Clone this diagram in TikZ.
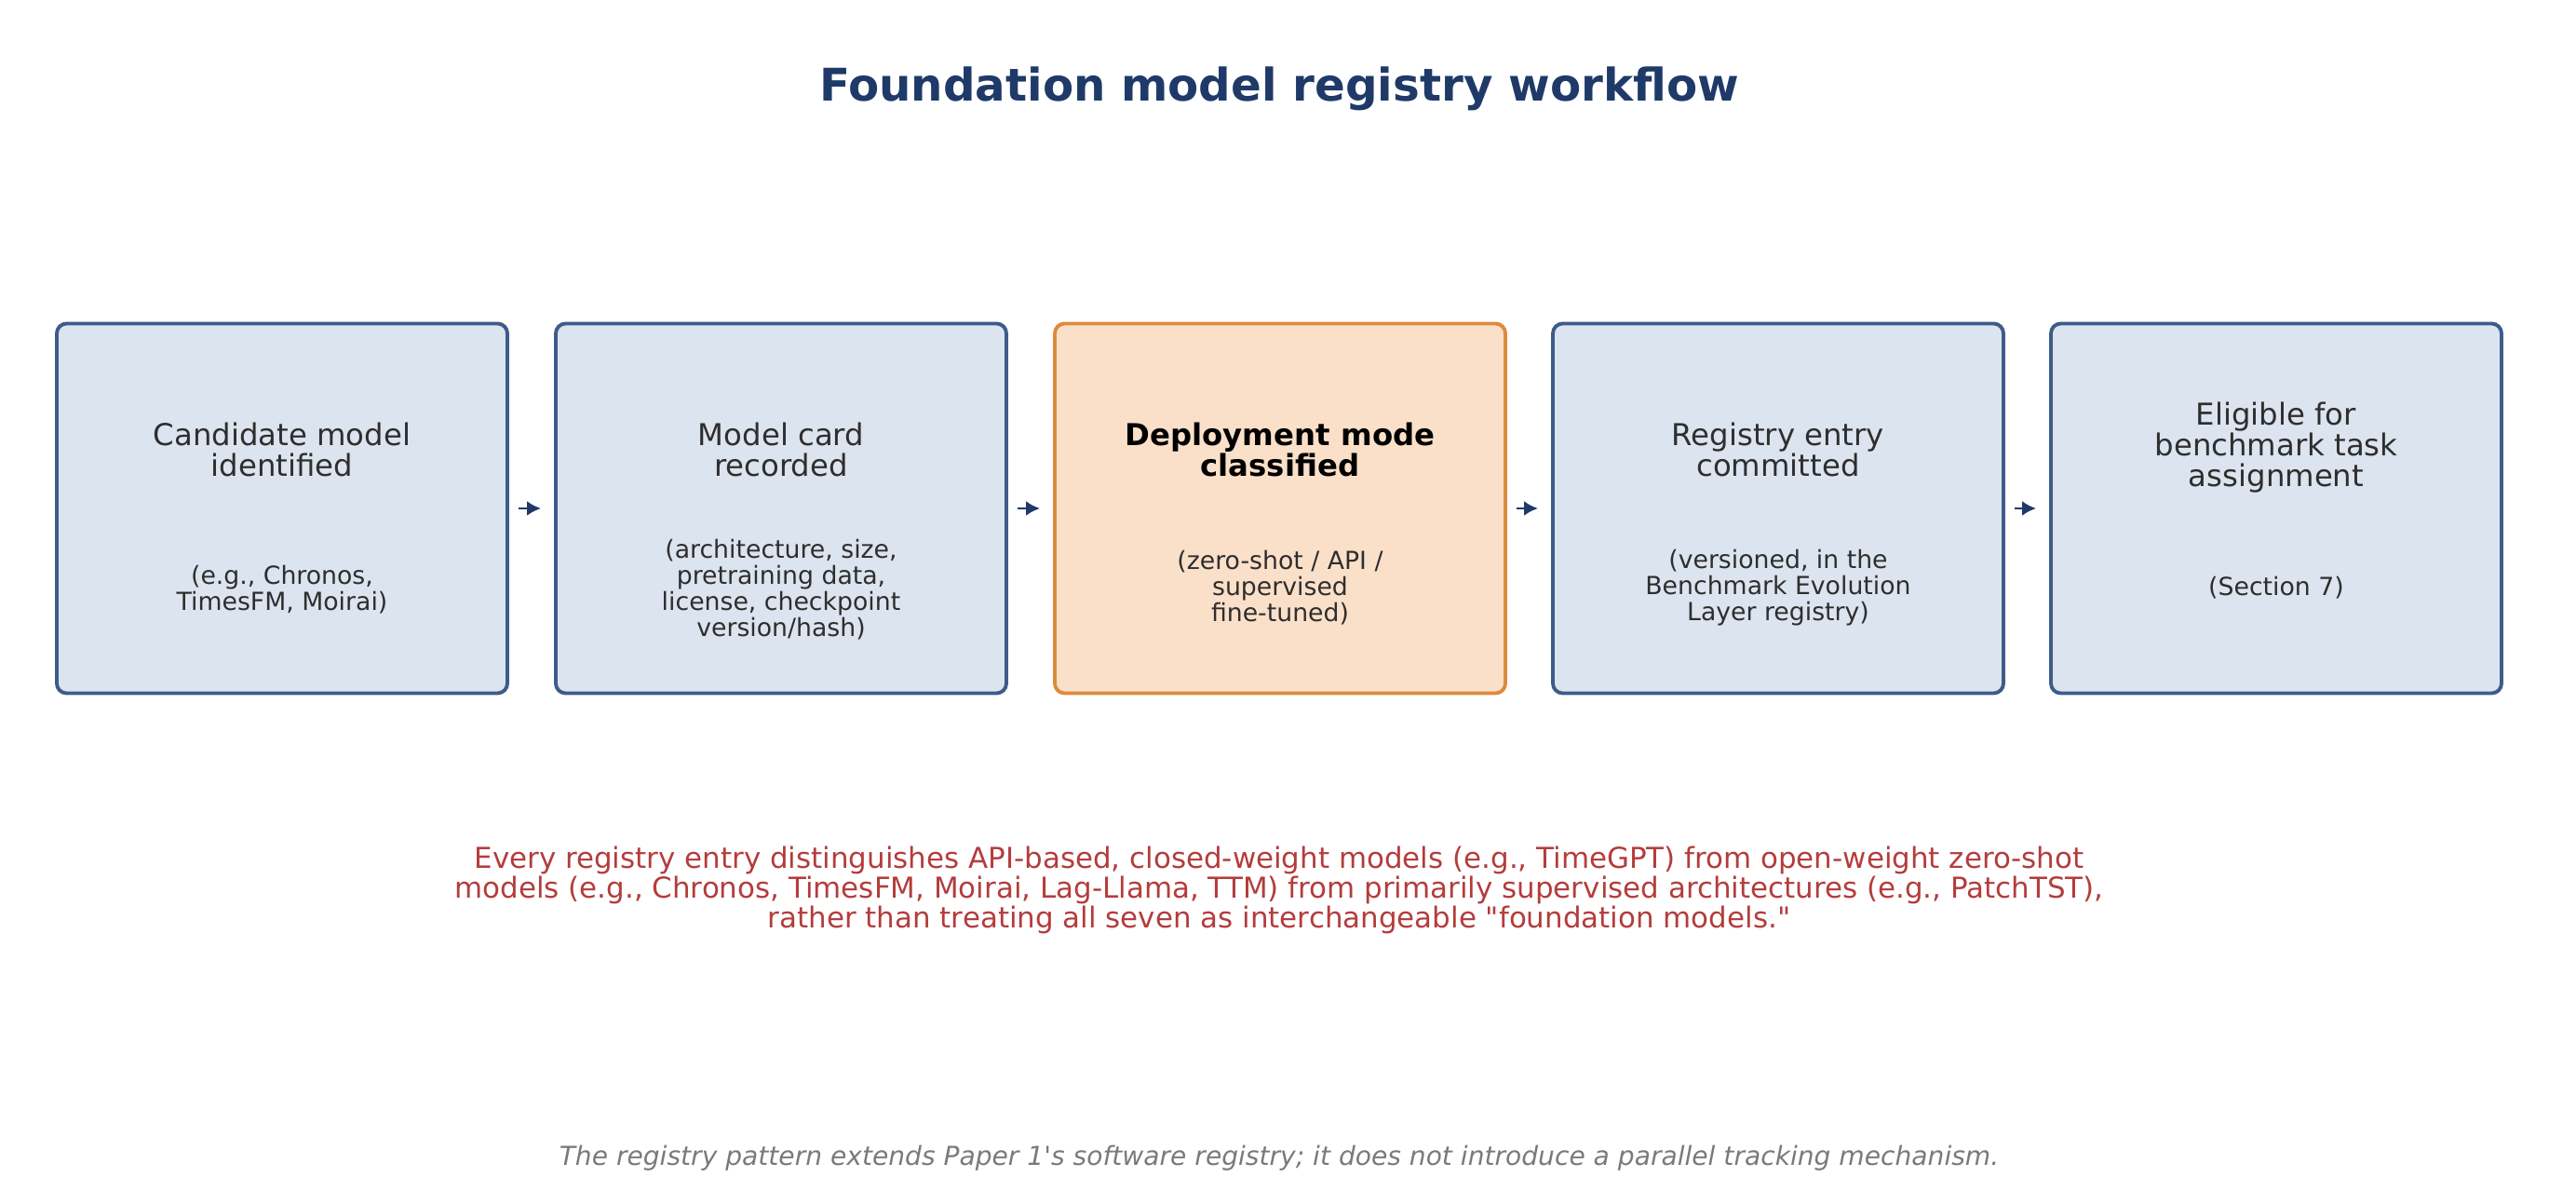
\documentclass[tikz,border=0pt]{standalone}
\usepackage{fontspec}
\setmainfont{DejaVu Sans}
\usepackage{xcolor}
\usepackage{tikz}
\usetikzlibrary{arrows.meta}

\definecolor{stagefill}{HTML}{DCE4EF}
\definecolor{stageline}{HTML}{3E5C8A}
\definecolor{modefill}{HTML}{FBE0C9}
\definecolor{modeline}{HTML}{DD8A3E}
\definecolor{titleblue}{HTML}{1F3A68}
\definecolor{notered}{HTML}{B43C3C}
\definecolor{footgrey}{HTML}{7A7A7A}
\definecolor{inkgrey}{HTML}{2E2E2E}

\tikzset{
	stage/.style={draw=stageline, fill=stagefill, line width=1.1pt, rounded corners=3pt,
		minimum width=4.84cm, minimum height=3.97cm},
	modestage/.style={stage, draw=modeline, fill=modefill},
	head/.style={align=center, text=inkgrey, font=\fontsize{9.2}{9.4}\selectfont},
	sub/.style={align=center, text=inkgrey, font=\fontsize{7.6}{7.9}\selectfont},
}

\begin{document}
\begin{tikzpicture}
		\useasboundingbox (0,0) rectangle (27.67,12.93);
		\node[font=\fontsize{13.75}{15}\selectfont\bfseries, text=titleblue] (title) at (13.74,11.98) {Foundation model registry workflow};
		%
		\node[stage] (cand) at (3.03,7.47) {};
		\node[stage] (card) at (8.39,7.47) {};
		\node[modestage] (mode) at (13.75,7.47) {};
		\node[stage] (entry) at (19.10,7.47) {};
		\node[stage] (elig) at (24.45,7.47) {};
		%
		\node[head] (cand-h) at (3.03,8.10) {Candidate model\\identified};
		\node[head] (card-h) at (8.39,8.10) {Model card\\recorded};
		\node[head, text=black, font=\fontsize{9.2}{9.4}\selectfont\bfseries] (mode-h) at (13.75,8.10) {Deployment mode\\classified};
		\node[head] (entry-h) at (19.10,8.10) {Registry entry\\committed};
		\node[head] (elig-h) at (24.45,8.12) {Eligible for\\benchmark task\\assignment};
		%
		\node[sub] (cand-s) at (3.03,6.60) {(e.g., Chronos,\\TimesFM, Moirai)};
		\node[sub] (card-s) at (8.39,6.60) {(architecture, size,\\pretraining data,\\license, checkpoint\\version/hash)};
		\node[sub] (mode-s) at (13.75,6.62) {(zero-shot / API /\\supervised\\fine-tuned)};
		\node[sub] (entry-s) at (19.10,6.62) {(versioned, in the\\Benchmark Evolution\\Layer registry)};
		\node[sub] (elig-s) at (24.45,6.62) {(Section 7)};
		%
		\path[-{Latex[length=1.5mm,width=1.6mm]}, color=titleblue, line width=0.8pt, shorten <=0.1cm, shorten >=0.14cm]
		% horizontal arrows
		(cand.east) edge (card.west)
		(card.east) edge (mode.west)
		(mode.east) edge (entry.west)
		(entry.east) edge (elig.west);
		%
		\node[align=center, text=notered, font=\fontsize{8.8}{9}\selectfont] (note) at (13.74,3.37) {Every registry entry distinguishes API-based, closed-weight models (e.g., TimeGPT) from open-weight zero-shot\\models (e.g., Chronos, TimesFM, Moirai, Lag-Llama, TTM) from primarily supervised architectures (e.g., PatchTST),\\rather than treating all seven as interchangeable \textquotedbl foundation models.\textquotedbl};
		\node[text=footgrey, font=\fontsize{8}{8.5}\selectfont\itshape] (foot) at (13.74,0.49) {The registry pattern extends Paper 1\textquotesingle s software registry; it does not introduce a parallel tracking mechanism.};
	\end{tikzpicture}
\end{document}
